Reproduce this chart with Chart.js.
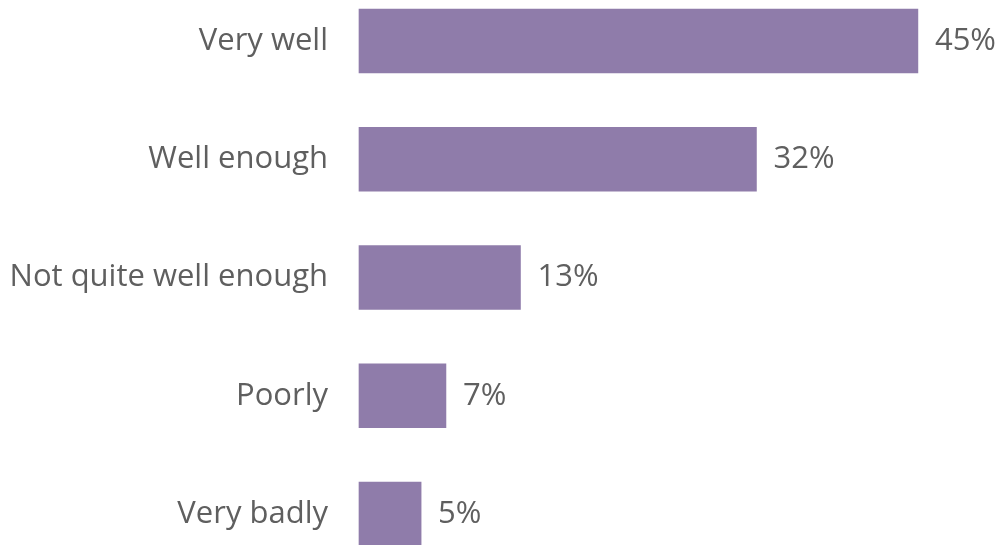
<!DOCTYPE html>
<html>
<head>
<meta charset="utf-8">
<script src="https://cdn.jsdelivr.net/npm/chart.js@4/dist/chart.umd.min.js"></script>
<style>
  html, body { margin: 0; padding: 0; background: #fff; }
  #wrap { width: 1001px; height: 545px; }
</style>
</head>
<body>
<div id="wrap"><canvas id="chart"></canvas></div>
<script>
const categories = ['Very well', 'Well enough', 'Not quite well enough', 'Poorly', 'Very badly'];
const shares = [45, 32, 13, 7, 5];

const FONT = '"Open Sans", sans-serif';
const FONT_SIZE = 31;
const TEXT = '#5f5f5f';

// percent labels to the right of each bar
const valueLabels = {
  id: 'valueLabels',
  afterDatasetsDraw(chart) {
    const { ctx } = chart;
    const meta = chart.getDatasetMeta(0);
    ctx.save();
    ctx.font = FONT_SIZE + 'px ' + FONT;
    ctx.fillStyle = TEXT;
    ctx.textAlign = 'left';
    ctx.textBaseline = 'middle';
    meta.data.forEach((bar, i) => {
      ctx.fillText(shares[i] + '%', bar.x + 17, bar.y);
    });
    ctx.restore();
  }
};

new Chart(document.getElementById('chart'), {
  type: 'bar',
  data: {
    labels: categories,
    datasets: [{
      data: shares,
      backgroundColor: '#8f7caa',
      barThickness: 64,
      clip: false,
    }],
  },
  options: {
    indexAxis: 'y',
    responsive: true,
    maintainAspectRatio: false,
    animation: false,
    layout: { padding: { top: 41, bottom: 31, left: 0, right: 21 } },
    plugins: { legend: { display: false }, tooltip: { enabled: false } },
    scales: {
      x: {
        display: false,
        min: 0,
        max: 50,
      },
      y: {
        offset: false,
        border: { display: false },
        grid: { display: false, drawTicks: false },
        afterFit(scale) {
          scale.width = 359;
          scale.paddingTop = 0;
          scale.paddingBottom = 0;
        },
        ticks: {
          padding: 31,
          color: TEXT,
          font: { family: FONT, size: FONT_SIZE },
        },
      },
    },
  },
  plugins: [valueLabels],
});
</script>
</body>
</html>
